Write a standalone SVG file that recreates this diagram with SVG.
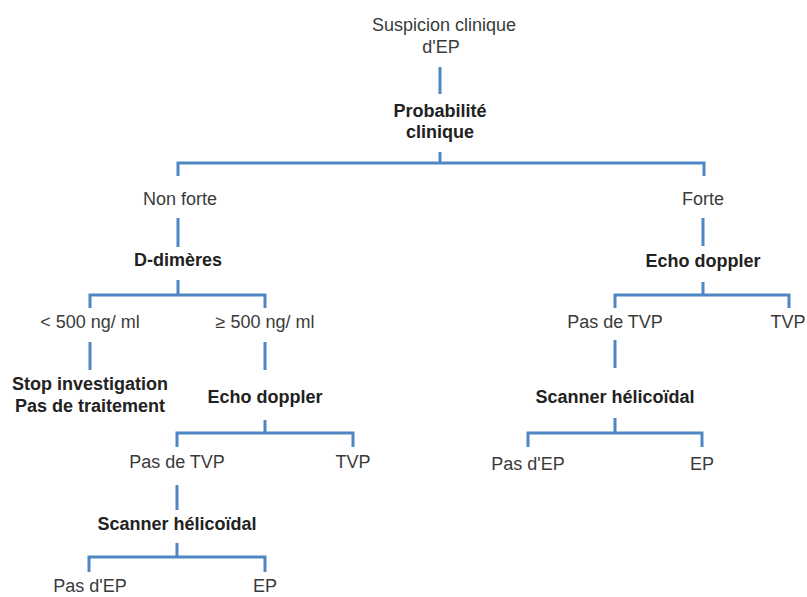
<svg xmlns="http://www.w3.org/2000/svg" width="807" height="597" viewBox="0 0 807 597">
<style>
text{font-family:"Liberation Sans",Arial,sans-serif;font-size:18px;text-anchor:middle;fill:#3a3a3a}
.b{font-weight:bold;fill:#222}
.c{stroke:#4f86c4;stroke-width:3;fill:none;stroke-linecap:butt}
</style>
<rect width="807" height="597" fill="#fff"/>
<g id="connectors" class="c">
<path d="M440 67V94"/>
<path d="M440 152V163M178 176V163H704V176"/>
<path d="M178 218V247"/>
<path d="M178 280V295M90 308V295H265V308"/>
<path d="M90 342V370M265 342V370"/>
<path d="M265 420V433M177 447V433H353V447"/>
<path d="M177 485V510"/>
<path d="M177 543V557M89 572V557H265V572"/>
<path d="M703 218V246"/>
<path d="M703 282V295M615 308V295H789V308"/>
<path d="M615 340V368"/>
<path d="M615 418V433M528 447V433H702V447"/>
</g>
<g id="n1"><text x="444" y="31">Suspicion clinique</text><text x="441" y="53">d'EP</text></g>
<g id="n2"><text class="b" x="440" y="117">Probabilité</text><text class="b" x="440" y="138">clinique</text></g>
<g id="n3"><text x="180" y="205">Non forte</text></g>
<g id="n4"><text class="b" x="178" y="266">D-dimères</text></g>
<g id="n5"><text x="90" y="328">&lt; 500 ng/ ml</text></g>
<g id="n6"><text x="265" y="328">≥ 500 ng/ ml</text></g>
<g id="n7"><text class="b" x="90" y="390">Stop investigation</text><text class="b" x="90" y="412">Pas de traitement</text></g>
<g id="n8"><text class="b" x="265" y="403">Echo doppler</text></g>
<g id="n9"><text x="177" y="468">Pas de TVP</text></g>
<g id="n10"><text x="353" y="468">TVP</text></g>
<g id="n11"><text class="b" x="177" y="530">Scanner hélicoïdal</text></g>
<g id="n12"><text x="90" y="592">Pas d'EP</text></g>
<g id="n13"><text x="265" y="592">EP</text></g>
<g id="n14"><text x="703" y="205">Forte</text></g>
<g id="n15"><text class="b" x="703" y="267">Echo doppler</text></g>
<g id="n16"><text x="615" y="328">Pas de TVP</text></g>
<g id="n17"><text x="788" y="328">TVP</text></g>
<g id="n18"><text class="b" x="615" y="403">Scanner hélicoïdal</text></g>
<g id="n19"><text x="528" y="470">Pas d'EP</text></g>
<g id="n20"><text x="702" y="470">EP</text></g>
</svg>
